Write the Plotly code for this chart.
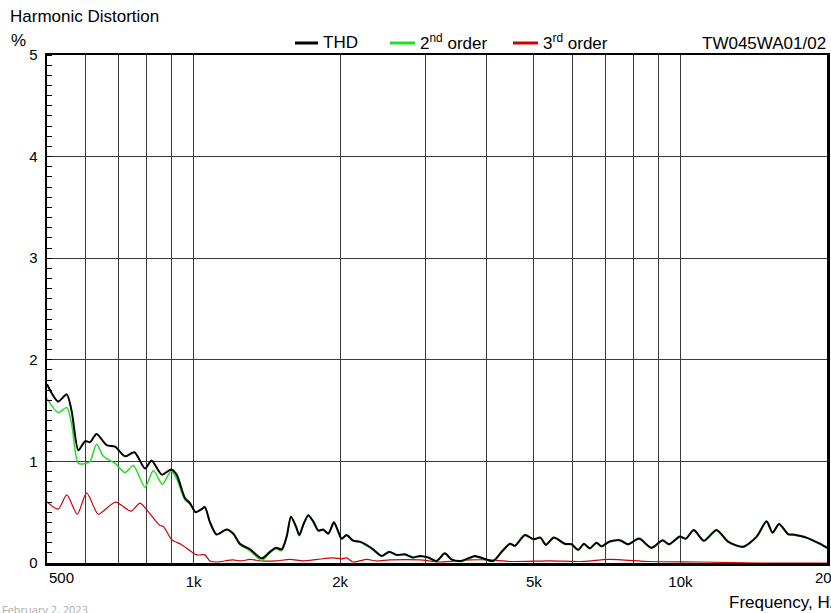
import plotly.graph_objects as go
import math

# ---------------- data ----------------
thd_freq = [500, 527, 549, 562, 580, 599, 613, 632, 663, 690, 723, 756, 795, 820, 860, 899, 923, 960, 983,
            1010, 1039, 1055, 1081, 1115, 1169, 1206, 1245, 1306, 1380, 1435, 1476, 1517, 1553, 1585, 1623,
            1649, 1680, 1720, 1761, 1804, 1846, 1891, 1942, 1982, 2014, 2062, 2128, 2196, 2322, 2433, 2523,
            2612, 2717, 2825, 2917, 3033, 3156, 3281, 3388, 3552, 3781, 3935, 4126, 4292, 4466, 4568, 4792,
            4993, 5159, 5292, 5495, 5791, 5976, 6165, 6336, 6516, 6724, 6886, 7139, 7509, 7808, 8225, 8724,
            9188, 9481, 9972, 10259, 10653, 11169, 11862, 12529, 13452, 14339, 15025, 15463, 15945, 16641,
            17039, 18159, 19334, 20000]
thd_vals = [1.76, 1.59, 1.66, 1.49, 1.11, 1.20, 1.19, 1.27, 1.16, 1.145, 1.05, 1.09, 0.93, 1.01, 0.87, 0.92, 0.87, 0.64, 0.59,
            0.50, 0.53, 0.55, 0.40, 0.28, 0.33, 0.29, 0.19, 0.135, 0.046, 0.11, 0.15, 0.135, 0.26, 0.455, 0.36,
            0.275, 0.375, 0.47, 0.41, 0.32, 0.33, 0.29, 0.40, 0.31, 0.24, 0.275, 0.22, 0.21, 0.145, 0.07, 0.11,
            0.08, 0.085, 0.055, 0.07, 0.055, 0.02, 0.095, 0.035, 0.02, 0.07, 0.045, 0.02, 0.11, 0.19, 0.17, 0.275,
            0.235, 0.25, 0.18, 0.25, 0.19, 0.185, 0.13, 0.19, 0.145, 0.20, 0.165, 0.21, 0.225, 0.185, 0.24, 0.15,
            0.225, 0.185, 0.26, 0.24, 0.325, 0.22, 0.325, 0.21, 0.16, 0.26, 0.41, 0.30, 0.385, 0.285,
            0.28, 0.25, 0.19, 0.15]

h2_freq = [500, 527, 549, 562, 580, 599, 613, 632, 653, 690, 723, 752, 795, 827, 863, 899, 923, 960, 983,
           1010, 1039, 1055, 1081, 1115, 1169, 1206, 1245, 1306, 1380, 1435, 1476, 1517, 1553, 1585, 1623,
           1649, 1680, 1720, 1761, 1804, 1846, 1891, 1942, 1982, 2014, 2062, 2128, 2196, 2322, 2433, 2523,
           2612, 2717, 2825, 2917, 3033, 3156, 3281, 3388, 3552, 3781, 3935, 4126, 4292, 4466, 4568, 4792,
           4993, 5159, 5292, 5495, 5791, 5976, 6165, 6336, 6516, 6724, 6886, 7139, 7509, 7808, 8225, 8724,
           9188, 9481, 9972, 10259, 10653, 11169, 11862, 12529, 13452, 14339, 15025, 15463, 15945, 16641,
           17039, 18159, 19334, 20000]
h2_vals = [1.62, 1.48, 1.53, 1.36, 0.98, 0.98, 1.00, 1.17, 1.05, 0.98, 0.89, 0.96, 0.745, 0.91, 0.775, 0.905, 0.83, 0.62, 0.58,
           0.50, 0.53, 0.55, 0.40, 0.28, 0.33, 0.29, 0.18, 0.12, 0.025, 0.10, 0.14, 0.12, 0.25, 0.45, 0.35,
           0.265, 0.37, 0.465, 0.405, 0.315, 0.325, 0.285, 0.395, 0.305, 0.235, 0.27, 0.215, 0.205, 0.14, 0.065, 0.105,
           0.075, 0.08, 0.05, 0.065, 0.05, 0.015, 0.09, 0.03, 0.015, 0.065, 0.04, 0.015, 0.105, 0.185, 0.165, 0.27,
           0.23, 0.245, 0.175, 0.245, 0.185, 0.18, 0.125, 0.185, 0.14, 0.195, 0.16, 0.205, 0.22, 0.18, 0.235, 0.145,
           0.22, 0.18, 0.255, 0.235, 0.32, 0.215, 0.32, 0.205, 0.155, 0.255, 0.405, 0.295, 0.38, 0.28,
           0.275, 0.245, 0.185, 0.145]

h3_freq = [500, 527, 549, 577, 603, 637, 663, 692, 744, 776, 807, 853, 867, 902, 945, 1015, 1055, 1081,
           1115, 1205, 1250, 1306, 1380, 1476, 1578, 1680, 1797, 1935, 2014, 2062, 2128, 2268, 2376, 2530,
           2917, 3200, 3695, 4060, 4466, 5394, 6215, 7139, 8654, 10960, 14560, 20000]
h3_vals = [0.60, 0.53, 0.67, 0.48, 0.69, 0.48, 0.54, 0.60, 0.51, 0.59, 0.505, 0.37, 0.36, 0.23, 0.18, 0.08, 0.08, 0.02,
           0.01, 0.03, 0.02, 0.035, 0.02, 0.02, 0.035, 0.02, 0.035, 0.05, 0.04, 0.05, 0.01, 0.035, 0.02, 0.03,
           0.03, 0.01, 0.03, 0.03, 0.015, 0.02, 0.015, 0.035, 0.015, 0.01, 0.0, 0.0]

x_grid = [600, 700, 800, 900, 3000, 4000, 6000, 7000, 8000, 9000]
x_tick_vals = [1000, 2000, 5000, 10000]
x_tick_text = ["1k", "2k", "5k", "10k"]
x_edge_labels = [(500, "500", "left"), (20000, "20k", "center")]
y_tick_vals = [0, 1, 2, 3, 4, 5]
y_tick_text = ["0", "1", "2", "3", "4", "5"]
y_half_grid = [0.5, 1.5, 2.5, 3.5, 4.5]

FONT = "Liberation Sans, Arial, sans-serif"
GRID = "#3a3a3a"

fig = go.Figure()
fig.add_trace(go.Scatter(x=h3_freq, y=h3_vals, mode="lines", name="3rd order",
                         line=dict(color="#d00000", width=1.2, shape="spline", smoothing=0.7)))
fig.add_trace(go.Scatter(x=h2_freq, y=h2_vals, mode="lines", name="2nd order",
                         line=dict(color="#22dd22", width=1.5, shape="spline", smoothing=0.7)))
fig.add_trace(go.Scatter(x=thd_freq, y=thd_vals, mode="lines", name="THD",
                         line=dict(color="#000000", width=2, shape="spline", smoothing=0.7)))

fig.update_layout(
    width=831, height=613,
    margin=dict(l=47, r=4, t=55, b=50, autoexpand=False),
    paper_bgcolor="white", plot_bgcolor="white",
    showlegend=False,
    font=dict(family=FONT, size=15, color="#000"),
    xaxis=dict(type="log", range=[math.log10(500), math.log10(20000)],
               tickvals=x_tick_vals, ticktext=x_tick_text, automargin=False,
               showgrid=True, gridcolor=GRID, gridwidth=1,
               minor=dict(tickmode="array", tickvals=x_grid, showgrid=True, gridcolor=GRID, gridwidth=1, ticks=""),
               showline=True, linecolor="#000", linewidth=2.5, mirror=True,
               ticks="", ticklabelstandoff=3, zeroline=False,
               tickfont=dict(size=15, family=FONT)),
    yaxis=dict(range=[0, 5], tickvals=y_tick_vals, ticktext=y_tick_text, automargin=False,
               showgrid=True, gridcolor=GRID, gridwidth=1,
               showline=True, linecolor="#000", linewidth=2.5, mirror=True,
               ticks="", zeroline=False, ticklabelstandoff=4,
               minor=dict(dtick=0.1, ticks="inside", ticklen=5, tickcolor="#000", showgrid=False),
               tickfont=dict(size=15, family=FONT)),
    yaxis2=dict(range=[0, 5], overlaying="y", side="right", tickvals=y_half_grid, showticklabels=False,
                automargin=False, showgrid=True, gridcolor=GRID, gridwidth=1, ticks="", zeroline=False,
                showline=False,
                minor=dict(dtick=0.1, ticks="inside", ticklen=5, tickcolor="#000", showgrid=False)),
)

def px(xp):
    return (xp - 47) / 780.0

def py(yp):
    return (563 - yp) / 508.0

ann = []
ann.append(dict(text="Harmonic Distortion", x=px(8), y=py(17), xanchor="left", yanchor="middle"))
ann.append(dict(text="%", x=px(9), y=py(40), xanchor="left", yanchor="middle"))
ann.append(dict(text="TW045WA01/02", x=px(828), y=py(43), xanchor="right", yanchor="middle"))
for fval, lab, anc in x_edge_labels:
    ann.append(dict(text=lab, x=math.log10(fval), xref="x", y=py(577), xanchor=anc, yanchor="middle",
                    font=dict(size=15, family=FONT, color="#000")))
ann.append(dict(text="Frequency, Hz", x=px(727), y=py(602), xanchor="left", yanchor="middle"))
ann.append(dict(text="February 2, 2023", x=px(0), y=py(609), xanchor="left", yanchor="middle",
                font=dict(size=11, color="#aaaaaa", family="Open Sans, " + FONT)))
legend_items = [("THD", "#000000", 295, 318, 321),
                ("2<sup>nd</sup> order", "#22dd22", 390, 415, 418),
                ("3<sup>rd</sup> order", "#d00000", 513, 538, 541)]
shapes = []
for label, col, x0, x1, xt in legend_items:
    shapes.append(dict(type="line", xref="paper", yref="paper", x0=px(x0), x1=px(x1), y0=py(43), y1=py(43),
                       line=dict(color=col, width=3)))
    ann.append(dict(text=label, x=px(xt), y=py(42), xanchor="left", yanchor="middle"))
for a in ann:
    a.setdefault("xref", "paper")
    a.update(yref="paper", showarrow=False)
    if "font" not in a:
        a["font"] = dict(size=17, family=FONT, color="#000")
fig.update_layout(annotations=ann, shapes=shapes)

fig.write_html("out.html", config={"displayModeBar": False, "staticPlot": True},
               post_script="document.body.style.margin='0';document.body.style.overflow='hidden';")
